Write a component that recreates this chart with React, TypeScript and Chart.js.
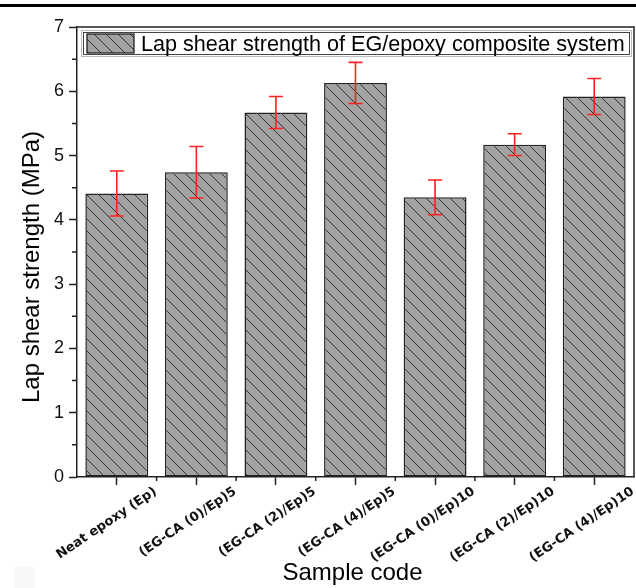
import { useEffect, useRef } from "react";
import { Chart, registerables } from "chart.js";

Chart.register(...registerables);

const categories = [
  "Neat epoxy (Ep)",
  "(EG-CA (0)/Ep)5",
  "(EG-CA (2)/Ep)5",
  "(EG-CA (4)/Ep)5",
  "(EG-CA (0)/Ep)10",
  "(EG-CA (2)/Ep)10",
  "(EG-CA (4)/Ep)10",
];
const values = [4.41, 4.74, 5.67, 6.13, 4.35, 5.17, 5.92];
const errors = [0.35, 0.4, 0.25, 0.32, 0.27, 0.17, 0.28];
const yMin = 0;
const yMax = 7;
const legendLabel = "Lap shear strength of EG/epoxy composite system";
const yTitle = "Lap shear strength (MPa)";
const xTitle = "Sample code";

const SANS = "'Liberation Sans', Arial, sans-serif";
const LABEL_FONT = "'DejaVu Sans', sans-serif";

function makePattern(ctx: CanvasRenderingContext2D) {
  const s = 12;
  const c = document.createElement("canvas");
  c.width = s;
  c.height = s;
  const g = c.getContext("2d")!;
  g.fillStyle = "#a2a2a2";
  g.fillRect(0, 0, s, s);
  g.strokeStyle = "#333333";
  g.lineWidth = 1;
  for (const k of [-s, 0, s]) {
    g.beginPath();
    g.moveTo(k - 1, -1);
    g.lineTo(k + s + 1, s + 1);
    g.stroke();
  }
  return ctx.createPattern(c, "repeat")!;
}

export default function App() {
  const ref = useRef<HTMLCanvasElement | null>(null);

  useEffect(() => {
    const canvas = ref.current!;
    const ctx0 = canvas.getContext("2d")!;
    const pattern = makePattern(ctx0);

    const deco = {
      id: "deco",
      afterDatasetsDraw(chart: any) {
        const ctx: CanvasRenderingContext2D = chart.ctx;
        const { left, top, right, bottom } = chart.chartArea;
        const xs = chart.scales.x;
        const ys = chart.scales.y;
        ctx.save();

        // error bars
        const meta = chart.getDatasetMeta(0);
        ctx.strokeStyle = "#ff2020";
        ctx.lineWidth = 1.6;
        meta.data.forEach((bar: any, i: number) => {
          const cx = bar.x;
          const yh = ys.getPixelForValue(values[i] + errors[i]);
          const yl = ys.getPixelForValue(values[i] - errors[i]);
          ctx.beginPath();
          ctx.moveTo(cx, yh);
          ctx.lineTo(cx, yl);
          ctx.moveTo(cx - 7, yh);
          ctx.lineTo(cx + 7, yh);
          ctx.moveTo(cx - 7, yl);
          ctx.lineTo(cx + 7, yl);
          ctx.stroke();
        });

        // frame top/right
        ctx.strokeStyle = "#222";
        ctx.lineWidth = 1.5;
        ctx.beginPath();
        ctx.moveTo(left, top);
        ctx.lineTo(right, top);
        ctx.lineTo(right, bottom);
        ctx.stroke();

        // minor y ticks
        ctx.beginPath();
        for (let v = yMin + 0.5; v < yMax; v += 1) {
          const py = ys.getPixelForValue(v);
          ctx.moveTo(left - 5, py);
          ctx.lineTo(left, py);
        }
        // minor x ticks at category boundaries
        for (let i = 0; i < categories.length - 1; i++) {
          const px = (xs.getPixelForValue(i) + xs.getPixelForValue(i + 1)) / 2;
          ctx.moveTo(px, bottom);
          ctx.lineTo(px, bottom + 4);
        }
        ctx.stroke();

        // x tick labels (rotated)
        ctx.fillStyle = "#111";
        ctx.font = `bold 13px ${LABEL_FONT}`;
        ctx.textAlign = "right";
        ctx.textBaseline = "top";
        categories.forEach((lab, i) => {
          const px = xs.getPixelForValue(i) + 35;
          ctx.save();
          ctx.translate(px, bottom + 8);
          ctx.rotate((-34 * Math.PI) / 180);
          ctx.fillText(lab, 0, 0);
          ctx.restore();
        });

        // axis titles
        ctx.fillStyle = "#000";
        ctx.font = `24px ${SANS}`;
        ctx.textAlign = "center";
        ctx.textBaseline = "alphabetic";
        ctx.fillText(xTitle, (left + right) / 2 - 3, 580);
        ctx.save();
        ctx.translate(39, 267);
        ctx.rotate(-Math.PI / 2);
        ctx.fillText(yTitle, 0, 0);
        ctx.restore();

        // legend box
        const lx = 82, ly = 31, lw = right - 3 - lx, lh = 25;
        ctx.fillStyle = "#fff";
        ctx.fillRect(lx, ly, lw, lh);
        ctx.strokeStyle = "#bbb";
        ctx.lineWidth = 1;
        ctx.strokeRect(lx - 0.5, ly - 0.5, lw + 1, lh + 1);
        ctx.strokeStyle = "#444";
        ctx.strokeRect(lx + 1.5, ly + 1.5, lw - 3, lh - 3);
        ctx.fillStyle = pattern;
        ctx.fillRect(87, 34, 47, 19);
        ctx.strokeStyle = "#222";
        ctx.lineWidth = 1.3;
        ctx.strokeRect(87, 34, 47, 19);
        ctx.fillStyle = "#000";
        ctx.font = `21.6px ${SANS}`;
        ctx.textAlign = "left";
        ctx.textBaseline = "alphabetic";
        ctx.fillText(legendLabel, 141, 51);

        // page rule at top
        ctx.fillStyle = "#000";
        ctx.fillRect(0, 4, 636, 3);

        // faint mark bottom-left
        ctx.fillStyle = "#f8f8f8";
        ctx.fillRect(14, 567, 21, 21);
        ctx.restore();
      },
    };

    const chart = new Chart(canvas, {
      type: "bar",
      data: {
        labels: categories,
        datasets: [
          {
            label: legendLabel,
            data: values,
            backgroundColor: pattern as any,
            borderColor: "#222",
            borderWidth: 1.5,
            borderSkipped: false,
            categoryPercentage: 1,
            barPercentage: 0.79,
          },
        ],
      },
      options: {
        responsive: false,
        animation: false,
        devicePixelRatio: 1,
        layout: { padding: { left: 0, top: 27, right: 2, bottom: 0 } },
        plugins: {
          legend: { display: false },
          tooltip: { enabled: false },
          title: { display: false },
        },
        scales: {
          x: {
            type: "category",
            offset: true,
            grid: {
              offset: false,
              drawOnChartArea: false,
              drawTicks: true,
              tickLength: 8,
              tickColor: "#222",
              tickWidth: 1.5,
            },
            border: { display: true, color: "#222", width: 1.5 },
            ticks: { display: false },
            afterFit: (s: any) => {
              s.height = 111;
            },
          },
          y: {
            min: yMin,
            max: yMax,
            grid: {
              drawOnChartArea: false,
              drawTicks: true,
              tickLength: 8,
              tickColor: "#222",
              tickWidth: 1.5,
            },
            border: { display: true, color: "#222", width: 1.5 },
            ticks: {
              stepSize: 1,
              padding: 5,
              color: "#111",
              font: { family: SANS, size: 18 },
            },
            afterFit: (s: any) => {
              s.width = 77;
            },
          },
        },
      },
      plugins: [deco],
    });
    return () => chart.destroy();
  }, []);

  return (
    <div style={{ position: "absolute", left: 0, top: 0, width: 636, height: 588, background: "#fff" }}>
      <canvas ref={ref} width={636} height={588} style={{ display: "block" }} />
    </div>
  );
}
